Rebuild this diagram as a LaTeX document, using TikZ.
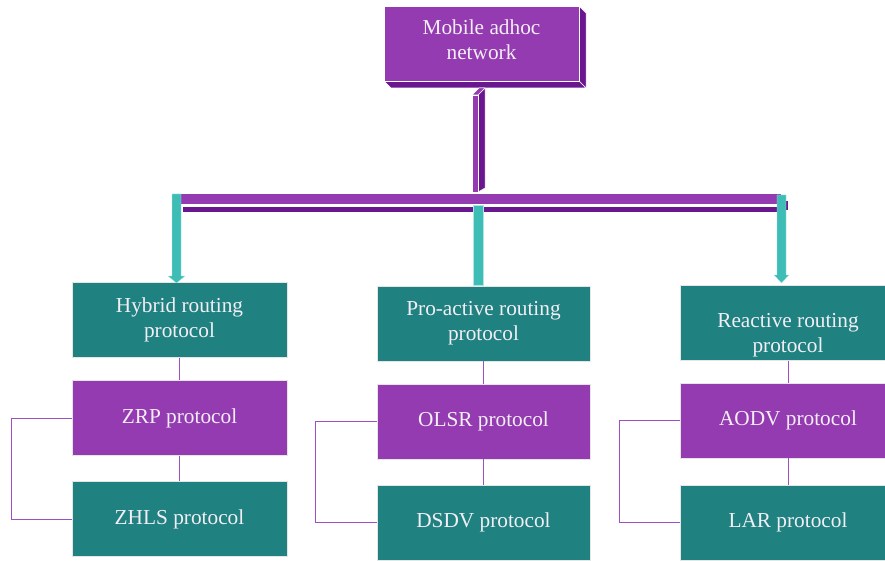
\documentclass[tikz,border=0pt]{standalone}
\usepackage{fontspec}
\setmainfont{Liberation Serif}
\definecolor{mpurple}{HTML}{943BB2}
\definecolor{dpurple}{HTML}{6A168F}
\definecolor{lpurple}{HTML}{9E4FC4}
\definecolor{mteal}{HTML}{1F8280}
\definecolor{lteal}{HTML}{3DBDB6}
\definecolor{txtc}{HTML}{F3EEF5}
\begin{document}
\begin{tikzpicture}[x=1pt,y=-1pt,
  box/.style={rectangle, minimum width=215pt, minimum height=75pt, inner sep=0pt,
    align=center, text=txtc, font=\fontsize{21.3}{25}\selectfont,
    draw=white!80!gray, line width=0.4pt},
  pbox/.style={box, fill=mpurple},
  tbox/.style={box, fill=mteal},
  boxtext/.style={inner sep=0pt, align=center, text=txtc, font=\fontsize{21.3}{25}\selectfont},
  link/.style={draw=lpurple, line width=1pt},
  face/.style={draw=white, line width=0.5pt, line join=round},
  tarrow/.style={fill=lteal, draw=white!60!lteal, line width=0.3pt}
]
\useasboundingbox (0,0) rectangle (885,561);
\clip (0,0) rectangle (885,561);

% top 3D box
\fill[face, fill=dpurple] (579,6) -- (586,13) -- (586,88) -- (579,81) -- cycle;
\fill[face, fill=dpurple] (384,81) -- (579,81) -- (586,88) -- (391,88) -- cycle;
\node[box, fill=mpurple, minimum width=195pt, draw=white, line width=0.5pt] (top) at (481.5,43.5) {};
\node[boxtext] (topt) at ([yshift=4pt]top.center) {Mobile adhoc\\network};

% stem
\fill[face, fill=dpurple] (478,95) -- (485,88) -- (485,188) -- (478,192) -- cycle;
\fill[face, fill=mpurple] (472,95) -- (478,95) -- (485,88) -- (479,88) -- cycle;
\fill[face, fill=mpurple] (472,95) rectangle (478,192);

% bar
\fill[face, fill=dpurple] (182,206) rectangle (784,212);
\fill[face, fill=dpurple] (784,200) rectangle (788,210);
\fill[face, fill=mpurple] (177,193) rectangle (781,204);

% boxes
\node[tbox] (hyb) at (179.5,320) {Hybrid routing\\protocol};
\node[pbox] (zrp) at (179.5,418) {ZRP protocol};
\node[tbox] (zhls) at (179.5,519) {ZHLS protocol};

\node[tbox, minimum width=213pt] (pro) at (483.5,323.5) {Pro-active routing\\protocol};
\node[pbox, minimum width=213pt] (olsr) at (483.5,421.5) {OLSR protocol};
\node[tbox, minimum width=213pt] (dsdv) at (483.5,522.5) {DSDV protocol};

\node[tbox] (rea) at (788,323) {};
\node[boxtext] (reat) at ([yshift=-12.5pt]rea.center) {Reactive routing\\protocol};
\node[pbox] (aodv) at (788,420.5) {AODV protocol};
\node[tbox] (lar) at (788,522.5) {LAR protocol};

% teal arrows
\fill[tarrow] (172,194) -- (181,194) -- (181,276) -- (185,276) -- (176.5,283) -- (168,276) -- (172,276) -- cycle;
\fill[tarrow] (473,205) rectangle (483,285.5);
\fill[tarrow] (777,195) -- (786,195) -- (786,275) -- (789,275) -- (781.5,283) -- (774,275) -- (777,275) -- cycle;

% connectors
\draw[link] (hyb.south) -- (zrp.north);
\draw[link] (zrp.south) -- (zhls.north);
\draw[link] (pro.south) -- (olsr.north);
\draw[link] (olsr.south) -- (dsdv.north);
\draw[link] (rea.south) -- (aodv.north);
\draw[link] (aodv.south) -- (lar.north);

\draw[link] (zrp.west) -- ++(-60,0) |- (zhls.west);
\draw[link] (olsr.west) -- ++(-61,0) |- (dsdv.west);
\draw[link] (aodv.west) -- ++(-61,0) |- (lar.west);
\end{tikzpicture}
\end{document}
